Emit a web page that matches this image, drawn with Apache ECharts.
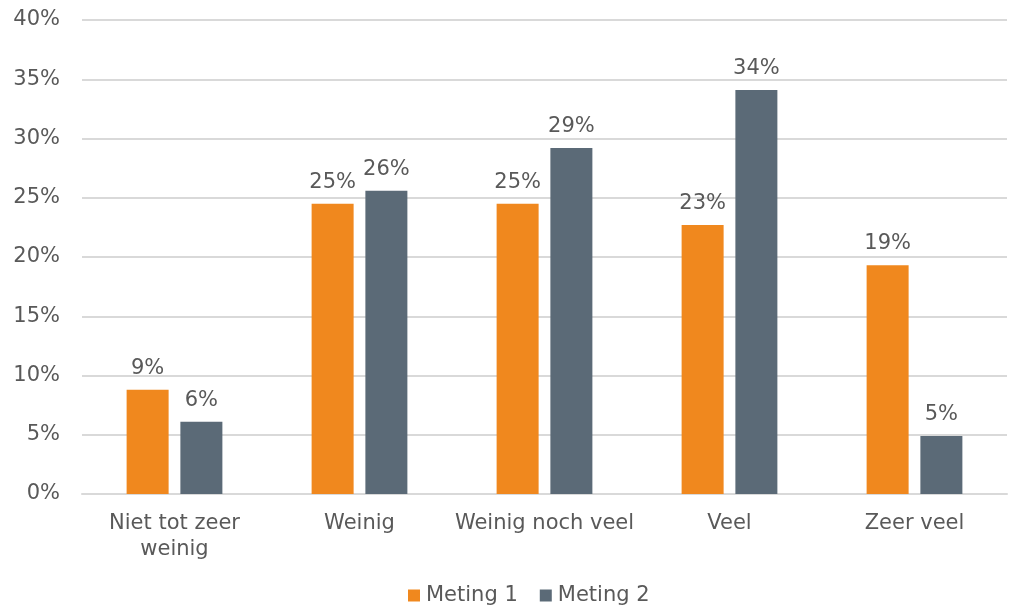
<!DOCTYPE html>
<html>
<head>
<meta charset="utf-8">
<script src="https://cdn.jsdelivr.net/npm/echarts@6/dist/echarts.min.js"></script>
<style>
  html, body { margin: 0; padding: 0; background: #fff; }
  #chart { width: 1009px; height: 613px; }
</style>
</head>
<body>
<div id="chart"></div>
<script>
// categorieën en metingen (percentages)
const categories = ["Niet tot zeer\nweinig", "Weinig", "Weinig noch veel", "Veel", "Zeer veel"];
const meting1 = [8.8, 24.5, 24.5, 22.7, 19.3];
const meting2 = [6.1, 25.6, 29.2, 34.1, 4.9];
const seriesNames = ["Meting 1", "Meting 2"];

const font = "DejaVu Sans";
const textColor = "#595959";
const fs = 21;

let chart = echarts.init(document.getElementById("chart"));

const labelOpt = {
  show: true,
  position: "top",
  distance: 11,
  color: textColor,
  fontFamily: font,
  fontSize: fs,
  formatter: p => Math.round(p.value) + "%"
};

chart.setOption({
  animation: false,
  grid: { left: 82, right: 2, top: 20, bottom: 119 },
  legend: {
    bottom: 2,
    left: 403,
    itemWidth: 12,
    itemHeight: 12,
    itemGap: 22,
    icon: "rect",
    textStyle: { color: textColor, fontFamily: font, fontSize: fs, padding: [0, 0, 0, 1] },
    data: seriesNames
  },
  xAxis: {
    type: "category",
    data: categories,
    axisLine: { lineStyle: { color: "#d9d9d9", width: 2 } },
    axisTick: { show: false },
    axisLabel: {
      interval: 0,
      color: textColor,
      fontFamily: font,
      fontSize: fs,
      margin: 17,
      lineHeight: 26
    }
  },
  yAxis: {
    type: "value",
    min: 0,
    max: 40,
    interval: 5,
    axisLine: { show: false },
    axisTick: { show: false },
    splitLine: { lineStyle: { color: "#d9d9d9", width: 2 } },
    axisLabel: {
      color: textColor,
      fontFamily: font,
      fontSize: fs,
      margin: 22,
      formatter: "{value}%"
    }
  },
  series: [
    {
      name: seriesNames[0],
      type: "bar",
      data: meting1,
      barWidth: 42,
      barGap: "28%",
      itemStyle: { color: "#F0881E" },
      label: labelOpt
    },
    {
      name: seriesNames[1],
      type: "bar",
      data: meting2,
      barWidth: 42,
      itemStyle: { color: "#5B6A77" },
      label: labelOpt
    }
  ]
});
</script>
</body>
</html>
